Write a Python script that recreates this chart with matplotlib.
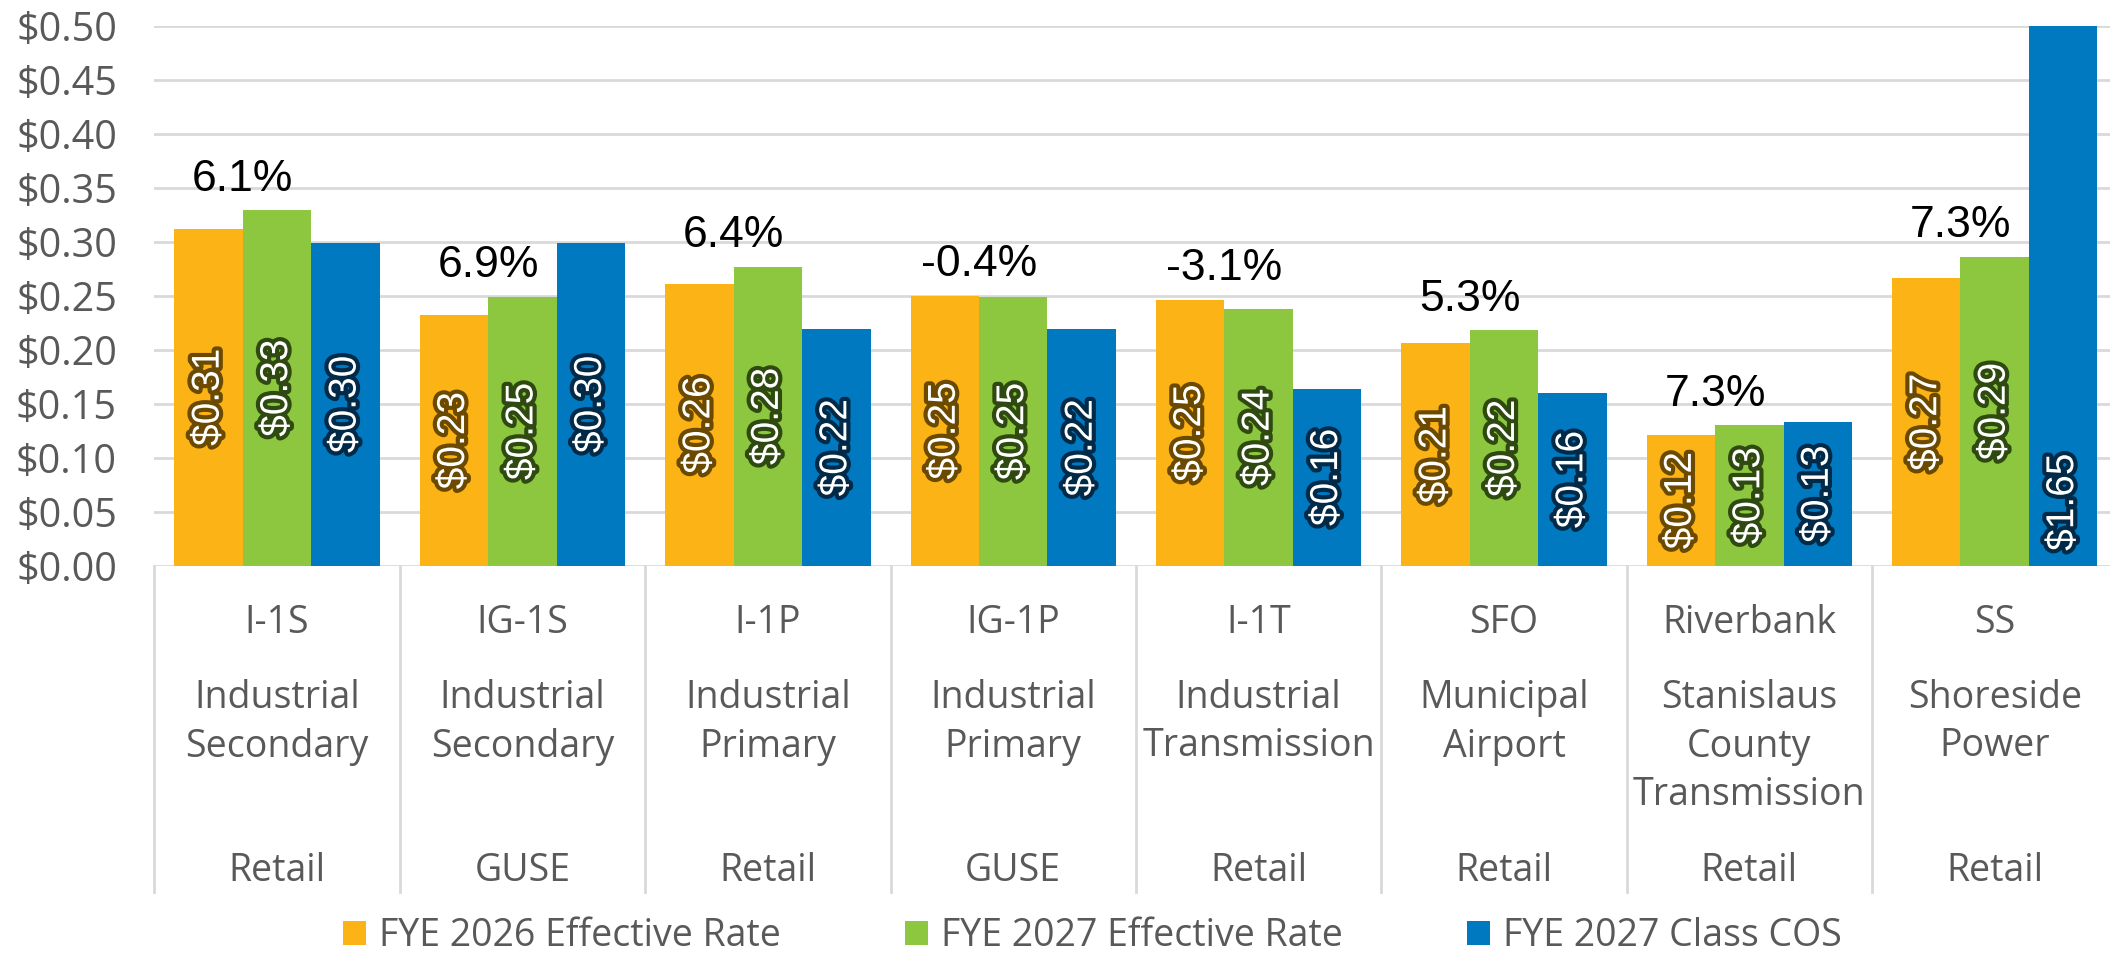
import matplotlib
matplotlib.use("Agg")
import matplotlib.pyplot as plt
import matplotlib.patheffects as pe
import numpy as np

# Data
codes = ["I-1S", "IG-1S", "I-1P", "IG-1P", "I-1T", "SFO", "Riverbank", "SS"]
descs = [
    ["Industrial", "Secondary"],
    ["Industrial", "Secondary"],
    ["Industrial", "Primary"],
    ["Industrial", "Primary"],
    ["Industrial", "Transmission"],
    ["Municipal", "Airport"],
    ["Stanislaus", "County", "Transmission"],
    ["Shoreside", "Power"],
]
kinds = ["Retail", "GUSE", "Retail", "GUSE", "Retail", "Retail", "Retail", "Retail"]

fye2026 = [0.312, 0.232, 0.261, 0.250, 0.246, 0.206, 0.121, 0.266]
fye2027 = [0.329, 0.249, 0.277, 0.249, 0.238, 0.218, 0.130, 0.286]
cos2027 = [0.299, 0.299, 0.219, 0.219, 0.164, 0.160, 0.133, 1.65]
pct_change = ["6.1%", "6.9%", "6.4%", "-0.4%", "-3.1%", "5.3%", "7.3%", "7.3%"]

series = [
    ("FYE 2026 Effective Rate", fye2026, "#FCB316", "#6B4A00"),
    ("FYE 2027 Effective Rate", fye2027, "#8DC63F", "#2F4A10"),
    ("FYE 2027 Class COS", cos2027, "#0079C1", "#002A48"),
]

axis_font = "Open Sans"
label_font = "Liberation Sans"
grey = "#595959"
line_grey = "#D9D9D9"
ymax = 0.50

fig = plt.figure(figsize=(21.1, 9.55), dpi=100)
ax = fig.add_axes([0.0732, 1 - 566 / 955, 0.9303, 540.5 / 955])

x = np.arange(len(codes))
w = 0.279
for k, (name, vals, col, glow) in enumerate(series):
    pos = x + (k - 1) * w
    ax.bar(pos, vals, width=w, color=col, label=name, zorder=2)
    for xi, v in zip(pos, vals):
        txt = f"${v:.2f}"
        if v > ymax:
            ty, va = 0.014, "bottom"
        else:
            ty, va = v / 2, "center"
        ax.text(xi, ty, txt, rotation=90, ha="center", va=va, color="white",
                fontsize=28, family=label_font, zorder=4,
                path_effects=[pe.withStroke(linewidth=6, foreground=glow)])

# percent change labels
for i in range(len(codes)):
    top = max(fye2026[i], fye2027[i])
    ax.text(x[i] - w / 2, top + 0.01, pct_change[i], ha="center", va="bottom",
            fontsize=32, family=label_font, color="black", zorder=5)

ax.set_xlim(-0.5, len(codes) - 0.5)
ax.set_ylim(0, ymax)
ticks = np.arange(0, 0.501, 0.05)
ax.set_yticks(ticks)
ax.set_yticklabels([f"${t:.2f}" for t in ticks],
                   family=axis_font, fontsize=28.5, color=grey)
ax.tick_params(axis="y", length=0, pad=27)
ax.set_xticks([])
ax.grid(axis="y", color=line_grey, linewidth=2, zorder=0)
for s in ax.spines.values():
    s.set_visible(False)

# multi-level category axis
tr = ax.get_xaxis_transform()
ax_h = 540.5
def yfrac(py):
    return (566 - py) / ax_h

for b in np.arange(-0.5, len(codes), 1.0):
    ax.plot([b, b], [0, yfrac(892)], transform=tr, color=line_grey,
            linewidth=2, clip_on=False, zorder=1)

for i in range(len(codes)):
    ax.text(x[i], yfrac(623), codes[i], transform=tr, ha="center", va="center",
            family=axis_font, fontsize=27, color=grey)
    for j, line in enumerate(descs[i]):
        ax.text(x[i], yfrac(698 + 48.5 * j), line, transform=tr, ha="center",
                va="center", family=axis_font, fontsize=27, color=grey)
    ax.text(x[i], yfrac(871), kinds[i], transform=tr, ha="center", va="center",
            family=axis_font, fontsize=27, color=grey)

fig.legend(loc="center", bbox_to_anchor=(0.5177, 0.02), ncol=3, frameon=False,
           prop={"family": axis_font, "size": 27}, labelcolor=grey,
           handlelength=0.62, handleheight=0.62, handletextpad=0.35,
           columnspacing=3.3, borderaxespad=0, borderpad=0)

fig.savefig("out.png", dpi=100)
